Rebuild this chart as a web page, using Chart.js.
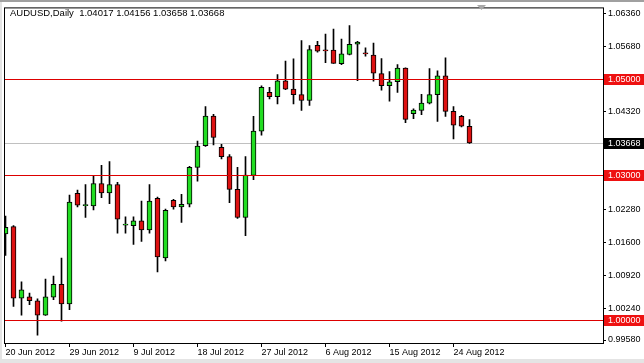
<!DOCTYPE html>
<html>
<head>
<meta charset="utf-8">
<script src="https://cdn.jsdelivr.net/npm/chart.js@4.4.1/dist/chart.umd.min.js"></script>
<style>
  html, body { margin: 0; padding: 0; background: #ffffff; }
  canvas { display: block; }
</style>
</head>
<body>
<canvas id="fx-Chart" width="644" height="363"></canvas>
<script>
const symbol = "AUDUSD";
const period = "Daily";

const dates = [
  "20 Jun 2012", "21 Jun 2012", "22 Jun 2012", "24 Jun 2012", "25 Jun 2012", "26 Jun 2012", "27 Jun 2012", "28 Jun 2012",
  "29 Jun 2012", "1 Jul 2012", "2 Jul 2012", "3 Jul 2012", "4 Jul 2012", "5 Jul 2012", "6 Jul 2012", "8 Jul 2012",
  "9 Jul 2012", "10 Jul 2012", "11 Jul 2012", "12 Jul 2012", "13 Jul 2012", "15 Jul 2012", "16 Jul 2012", "17 Jul 2012",
  "18 Jul 2012", "19 Jul 2012", "20 Jul 2012", "22 Jul 2012", "23 Jul 2012", "24 Jul 2012", "25 Jul 2012", "26 Jul 2012",
  "27 Jul 2012", "29 Jul 2012", "30 Jul 2012", "31 Jul 2012", "1 Aug 2012", "2 Aug 2012", "3 Aug 2012", "5 Aug 2012",
  "6 Aug 2012", "7 Aug 2012", "8 Aug 2012", "9 Aug 2012", "10 Aug 2012", "12 Aug 2012", "13 Aug 2012", "14 Aug 2012",
  "15 Aug 2012", "16 Aug 2012", "17 Aug 2012", "19 Aug 2012", "20 Aug 2012", "21 Aug 2012", "22 Aug 2012", "23 Aug 2012",
  "24 Aug 2012", "26 Aug 2012", "27 Aug 2012"
];

const opens = [
  1.01782, 1.01932, 1.00450, 1.00476, 1.00395, 1.00093, 1.00470, 1.00737,
  1.00327, 1.02623, 1.02370, 1.02362, 1.02828, 1.02635, 1.02807, 1.01966,
  1.01952, 1.02055, 1.01864, 1.02520, 1.01282, 1.02479, 1.02342, 1.02397,
  1.03162, 1.03613, 1.04228, 1.03578, 1.03387, 1.02705, 1.02123, 1.02998,
  1.03914, 1.04720, 1.04632, 1.04960, 1.04788, 1.04673, 1.04550, 1.05698,
  1.05587, 1.05595, 1.05315, 1.05505, 1.05718, 1.05526, 1.05493, 1.05109,
  1.04857, 1.04940, 1.05226, 1.04275, 1.04345, 1.04495, 1.04673, 1.05062,
  1.04324, 1.04222, 1.04017
];
const highs = [
  1.02150, 1.01953, 1.00790, 1.00552, 1.00435, 1.00845, 1.00907, 1.01282,
  1.02588, 1.02690, 1.02807, 1.02978, 1.03203, 1.03285, 1.02855, 1.02137,
  1.02137, 1.02465, 1.02807, 1.02547, 1.02295, 1.02500, 1.02602, 1.03183,
  1.03709, 1.04427, 1.04263, 1.03640, 1.03428, 1.03162, 1.03387, 1.04220,
  1.04857, 1.04822, 1.05089, 1.05370, 1.05417, 1.05792, 1.05690, 1.05780,
  1.05930, 1.06032, 1.05827, 1.06108, 1.05780, 1.05642, 1.05745, 1.05423,
  1.05151, 1.05294, 1.05230, 1.04378, 1.04679, 1.05212, 1.05165, 1.05437,
  1.04427, 1.04242, 1.04156
];
const lows = [
  1.01337, 1.00278, 1.00093, 1.00313, 0.99683, 1.00090, 1.00415, 0.99970,
  1.00210, 1.02342, 1.02123, 1.02280, 1.02533, 1.02410, 1.01795, 1.01795,
  1.01563, 1.01624, 1.01795, 1.00995, 1.01220, 1.02295, 1.02020, 1.02342,
  1.02875, 1.03600, 1.03627, 1.03340, 1.02430, 1.02103, 1.01747, 1.02910,
  1.03832, 1.04583, 1.04480, 1.04775, 1.04480, 1.04345, 1.04447, 1.05554,
  1.05335, 1.05320, 1.05294, 1.05499, 1.04960, 1.05472, 1.04952, 1.04767,
  1.04535, 1.04720, 1.04091, 1.04173, 1.04255, 1.04480, 1.04119, 1.04222,
  1.03751, 1.04003, 1.03658
];
const closes = [
  1.01918, 1.00450, 1.00620, 1.00395, 1.00093, 1.00476, 1.00737, 1.00327,
  1.02444, 1.02377, 1.02380, 1.02828, 1.02635, 1.02807, 1.02090, 1.01980,
  1.02055, 1.01864, 1.02465, 1.01303, 1.02274, 1.02342, 1.02397, 1.03162,
  1.03607, 1.04228, 1.03783, 1.03387, 1.02705, 1.02123, 1.03004, 1.03914,
  1.04822, 1.04632, 1.04960, 1.04788, 1.04673, 1.04550, 1.05608, 1.05575,
  1.05580, 1.05320, 1.05520, 1.05718, 1.05765, 1.05520, 1.05116, 1.04857,
  1.04940, 1.05226, 1.04160, 1.04351, 1.04495, 1.04673, 1.05062, 1.04324,
  1.04037, 1.04017, 1.03668
];

// x ticks (bar index) and y ticks as shown by the terminal
const xTickIdx = [0, 8, 16, 24, 32, 40, 48, 56];
const yTicks = [1.06360, 1.05680, 1.04320, 1.02280, 1.01600, 1.00920, 1.00240, 0.99580];
const levels = [1.05000, 1.03000, 1.00000];

const upColor = "#22dd22";
const downColor = "#dd1111";
const lineRed = "#dd0000";
const fontFam = "'Liberation Sans', Arial, sans-serif";

const last = closes.length - 1;

const bodies = opens.map((o, i) => ({ x: i, y: [Math.min(o, closes[i]), Math.max(o, closes[i])] }));
const wicks = lows.map((l, i) => ({ x: i, y: [l, highs[i]] }));
const bodyColors = opens.map((o, i) => closes[i] >= o ? upColor : downColor);

const mtPlugin = {
  id: "mt4",
  beforeDraw(chart) {
    const c = chart.ctx;
    c.save();
    c.fillStyle = "#ffffff";
    c.fillRect(0, 0, chart.width, chart.height);
    c.fillStyle = "#a0a0a0";
    c.fillRect(0, 0, chart.width, 2);
    c.fillStyle = "#e4e4e4";
    c.fillRect(0, 2, 2, chart.height);
    c.fillRect(0, chart.height - 4, chart.width, 4);
    c.restore();
  },
  beforeDatasetsDraw(chart) {
    const c = chart.ctx, a = chart.chartArea, y = chart.scales.y;
    c.save();
    c.fillStyle = "#c0c0c0";
    c.fillRect(a.left, Math.round(y.getPixelForValue(closes[last])), a.right - a.left, 1);
    c.restore();
  },
  afterDatasetsDraw(chart) {
    const c = chart.ctx, a = chart.chartArea, y = chart.scales.y;
    c.save();
    c.fillStyle = lineRed;
    levels.forEach(v => {
      c.fillRect(a.left, Math.round(y.getPixelForValue(v)), a.right - a.left, 1);
    });
    c.restore();
  },
  afterDraw(chart) {
    const c = chart.ctx, a = chart.chartArea, y = chart.scales.y;
    c.save();
    c.strokeStyle = "#000000";
    c.lineWidth = 1;
    c.strokeRect(a.left + 0.5, a.top + 0.5, a.right - a.left, a.bottom - a.top);

    // shift marker
    c.fillStyle = "#a8a8a8";
    c.beginPath(); c.moveTo(477, 5); c.lineTo(486, 5); c.lineTo(481.5, 10); c.closePath(); c.fill();

    // price labels
    c.font = "9px " + fontFam;
    c.textBaseline = "middle";
    c.textAlign = "left";
    const box = (v, bg) => {
      const p = Math.round(y.getPixelForValue(v));
      c.fillStyle = bg;
      c.fillRect(a.right + 1, p - 5, 40, 11);
      c.fillStyle = "#ffffff";
      c.fillText(v.toFixed(5), a.right + 5, p + 0.5);
    };
    levels.forEach(v => box(v, "#ee1111"));
    box(closes[last], "#000000");

    // header
    c.font = "9.5px " + fontFam;
    c.fillStyle = "#000000";
    c.textBaseline = "alphabetic";
    const head = symbol + "," + period + "  " +
      [opens[last], highs[last], lows[last], closes[last]].map(v => v.toFixed(5)).join(" ");
    c.fillText(head, 10, 16);
    c.restore();
  }
};

const config = {
  type: "bar",
  data: {
    datasets: [
      {
        label: "body",
        data: bodies,
        backgroundColor: bodyColors,
        borderColor: "#000000",
        borderWidth: 1,
        borderSkipped: false,
        barThickness: 5,
        minBarLength: 1,
        grouped: false
      },
      {
        label: "wick",
        data: wicks,
        backgroundColor: "#000000",
        borderWidth: 0,
        barThickness: 1,
        grouped: false
      }
    ]
  },
  options: {
    responsive: false,
    animation: false,
    devicePixelRatio: 1,
    layout: { padding: { left: 4, top: 4, right: 0, bottom: 0 } },
    plugins: {
      legend: { display: false },
      tooltip: { enabled: false }
    },
    scales: {
      x: {
        type: "linear",
        position: "bottom",
        offset: false,
        min: -0.1875,
        max: 74.6875,
        afterBuildTicks: s => { s.ticks = xTickIdx.map(v => ({ value: v })); },
        afterFit: s => { s.height = 20; },
        border: { display: false },
        grid: { offset: false, drawOnChartArea: false, drawTicks: true, tickLength: 4, color: "#000000" },
        ticks: {
          align: "start",
          autoSkip: false,
          maxRotation: 0,
          padding: 0,
          color: "#000000",
          font: { family: fontFam, size: 9 },
          callback: v => dates[v] || ""
        }
      },
      y: {
        position: "right",
        min: 0.99518,
        max: 1.06483,
        afterBuildTicks: s => { s.ticks = yTicks.map(v => ({ value: v })); },
        afterFit: s => { s.width = 41; },
        border: { display: false },
        grid: { drawOnChartArea: false, drawTicks: true, tickLength: 3, color: "#000000" },
        ticks: {
          padding: 2,
          color: "#000000",
          font: { family: fontFam, size: 9 },
          callback: v => v.toFixed(5)
        }
      }
    }
  },
  plugins: [mtPlugin]
};

const myChart = new Chart(document.getElementById("fx-Chart"), config);
</script>
</body>
</html>
